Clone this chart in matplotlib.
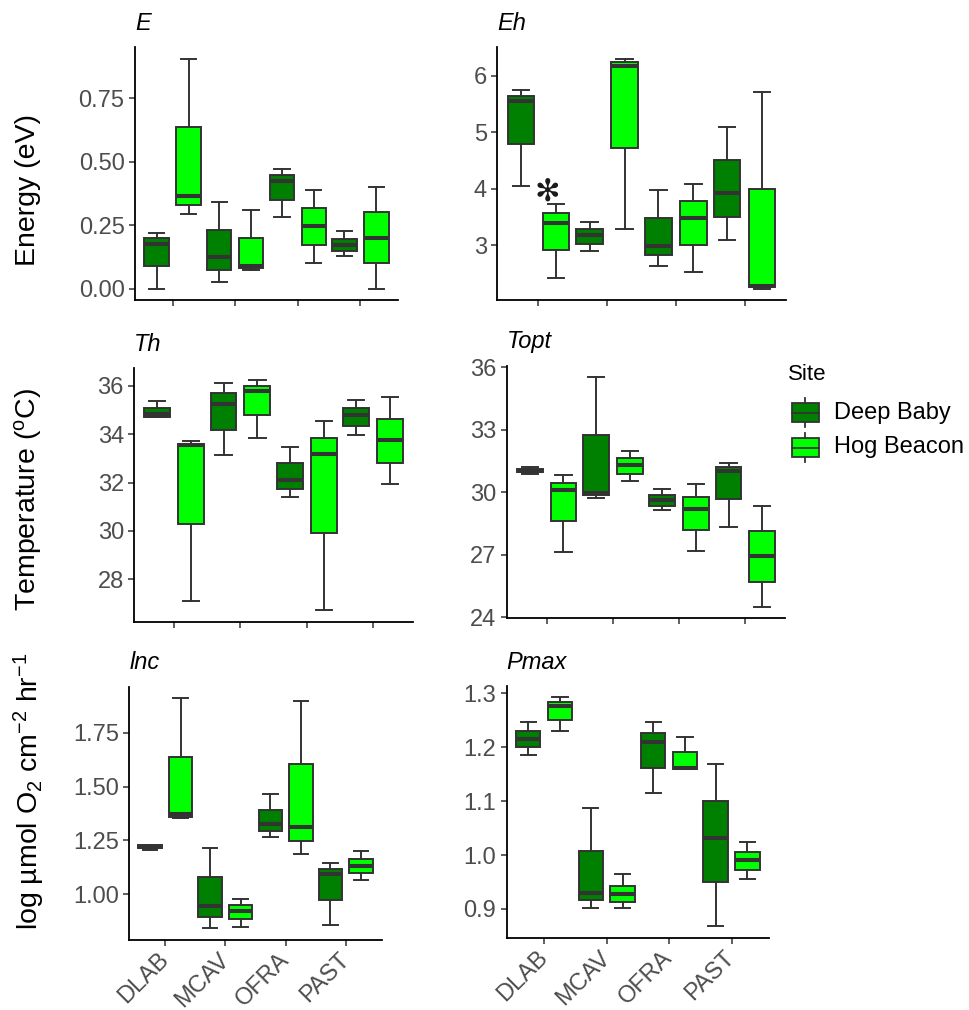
import matplotlib
matplotlib.use('Agg')
import matplotlib.pyplot as plt
from matplotlib.patches import Rectangle
from matplotlib.transforms import ScaledTranslation

plt.rcParams['font.family'] = ['Liberation Sans', 'DejaVu Sans']
plt.rcParams['mathtext.fontset'] = 'custom'
plt.rcParams['mathtext.rm'] = 'Liberation Sans'
plt.rcParams['mathtext.it'] = 'Liberation Sans:italic'

species = ['DLAB', 'MCAV', 'OFRA', 'PAST']
sites = ['Deep Baby', 'Hog Beacon']
site_colors = ['#008000', '#00FF00']

# five-number summaries per species: (whisker low, Q1, median, Q3, whisker high)
E_deep = [(0.000, 0.089, 0.177, 0.198, 0.220), (0.025, 0.073, 0.123, 0.231, 0.341),
          (0.281, 0.350, 0.425, 0.446, 0.471), (0.127, 0.148, 0.173, 0.195, 0.227)]
E_hog = [(0.294, 0.330, 0.364, 0.635, 0.907), (0.073, 0.080, 0.090, 0.198, 0.309),
         (0.100, 0.172, 0.245, 0.317, 0.389), (0.000, 0.100, 0.201, 0.302, 0.399)]
Eh_deep = [(4.05, 4.79, 5.55, 5.65, 5.75), (2.90, 3.02, 3.18, 3.29, 3.42),
           (2.64, 2.82, 2.99, 3.48, 3.98), (3.09, 3.50, 3.93, 4.51, 5.09)]
Eh_hog = [(2.42, 2.91, 3.40, 3.57, 3.74), (3.29, 4.73, 6.18, 6.24, 6.31),
          (2.53, 3.00, 3.49, 3.78, 4.09), (2.235, 2.259, 2.28, 4.00, 5.71)]
Th_deep = [(34.70, 34.71, 34.82, 35.07, 35.36), (33.15, 34.19, 35.23, 35.69, 36.11),
           (31.42, 31.75, 32.12, 32.79, 33.46), (33.95, 34.34, 34.78, 35.09, 35.42)]
Th_hog = [(27.09, 30.30, 33.54, 33.61, 33.70), (33.85, 34.80, 35.78, 36.00, 36.25),
          (26.72, 29.93, 33.17, 33.83, 34.54), (31.93, 32.82, 33.77, 34.64, 35.55)]
Topt_deep = [(30.90, 30.95, 31.04, 31.14, 31.22), (29.75, 29.88, 29.99, 32.76, 35.52),
             (29.15, 29.35, 29.63, 29.88, 30.14), (28.33, 29.66, 31.01, 31.22, 31.39)]
Topt_hog = [(27.14, 28.61, 30.10, 30.45, 30.82), (30.52, 30.90, 31.31, 31.65, 31.98),
            (27.17, 28.19, 29.21, 29.77, 30.39), (24.51, 25.71, 26.96, 28.14, 29.35)]
Inc_deep = [(1.204, 1.213, 1.221, 1.227, 1.230), (0.841, 0.893, 0.946, 1.079, 1.216),
            (1.264, 1.292, 1.326, 1.393, 1.467), (0.855, 0.974, 1.094, 1.116, 1.147)]
Inc_hog = [(1.354, 1.359, 1.371, 1.639, 1.911), (0.847, 0.887, 0.924, 0.949, 0.977),
           (1.187, 1.249, 1.312, 1.603, 1.897), (1.066, 1.101, 1.133, 1.165, 1.199)]
Pmax_deep = [(1.185, 1.2006, 1.2157, 1.2307, 1.2458), (0.902, 0.917, 0.930, 1.008, 1.087),
             (1.115, 1.162, 1.209, 1.227, 1.246), (0.868, 0.950, 1.031, 1.100, 1.168)]
Pmax_hog = [(1.229, 1.251, 1.276, 1.284, 1.292), (0.902, 0.913, 0.927, 0.943, 0.964),
            (1.159, 1.160, 1.162, 1.190, 1.219), (0.955, 0.972, 0.991, 1.006, 1.024)]

E_ticks = [0.0, 0.25, 0.5, 0.75]
Eh_ticks = [3, 4, 5, 6]
Th_ticks = [28, 30, 32, 34, 36]
Topt_ticks = [24, 27, 30, 33, 36]
Inc_ticks = [1.0, 1.25, 1.5, 1.75]
Pmax_ticks = [0.9, 1.0, 1.1, 1.2, 1.3]

W, H = 969, 1010
fig = plt.figure(figsize=(W / 100, H / 100), dpi=100)
EDGE = '#333333'


def add_ax(left, right, top, bottom):
    return fig.add_axes([left / W, 1 - bottom / H, (right - left) / W, (bottom - top) / H])


def panel(ax, deep, hog, ticks, fmt, title, show_x):
    stats, pos, cols = [], [], []
    for i in range(len(species)):
        for j, grp in enumerate([deep, hog]):
            lo, q1, med, q3, hi = grp[i]
            stats.append(dict(whislo=lo, q1=q1, med=med, q3=q3, whishi=hi, fliers=[]))
            pos.append(i + 1 + (-0.255 if j == 0 else 0.255))
            cols.append(site_colors[j])
    bp = ax.bxp(stats, positions=pos, widths=0.39, capwidths=0.245, patch_artist=True,
                showfliers=False,
                boxprops=dict(edgecolor=EDGE, linewidth=1.4),
                whiskerprops=dict(color=EDGE, linewidth=1.4),
                capprops=dict(color=EDGE, linewidth=1.4),
                medianprops=dict(color=EDGE, linewidth=2.9, solid_capstyle='butt'))
    for b, c in zip(bp['boxes'], cols):
        b.set_facecolor(c)
    allv = [v for g in (deep, hog) for t in g for v in t]
    lo, hi = min(allv), max(allv)
    pad = 0.05 * (hi - lo)
    ax.set_ylim(lo - pad, hi + pad)
    ax.set_xlim(0.4, 4.6)
    ax.set_yticks(ticks)
    ax.set_yticklabels([fmt.format(t) for t in ticks])
    ax.set_xticks(range(1, len(species) + 1))
    if show_x:
        labs = ax.set_xticklabels(species, rotation=45, ha='right', va='center',
                                  rotation_mode='anchor')
        off = ScaledTranslation(5 / 100, -2 / 100, fig.dpi_scale_trans)
        for lb in labs:
            lb.set_transform(lb.get_transform() + off)
    else:
        ax.set_xticklabels([])
    for s in ('top', 'right'):
        ax.spines[s].set_visible(False)
    for s in ('left', 'bottom'):
        ax.spines[s].set_color('black')
        ax.spines[s].set_linewidth(1.3)
    ax.tick_params(direction='out', length=4, width=1.1, color=EDGE,
                   labelcolor='#4D4D4D', labelsize=17, pad=3.5)
    ax.tick_params(axis='x', pad=8)
    ax.set_title(title, loc='left', fontstyle='italic', fontsize=17, pad=12.5)
    ax.set_facecolor('white')


axE = add_ax(135, 398, 47, 300)
panel(axE, E_deep, E_hog, E_ticks, '{:.2f}', 'E', False)
axEh = add_ax(497.3, 785.7, 47, 300)
panel(axEh, Eh_deep, Eh_hog, Eh_ticks, '{:.0f}', 'Eh', False)
axEh.text(1.13, 3.947, '\u273B', fontsize=22, ha='center', va='center', color='#1a1a1a',
          family=['DejaVu Sans'])
axTh = add_ax(134.3, 413, 368.3, 621.7)
panel(axTh, Th_deep, Th_hog, Th_ticks, '{:.0f}', 'Th', False)
axTopt = add_ax(506.8, 785.2, 365.7, 618.3)
panel(axTopt, Topt_deep, Topt_hog, Topt_ticks, '{:.0f}', 'Topt', False)
axInc = add_ax(129.3, 381.7, 686.7, 940)
panel(axInc, Inc_deep, Inc_hog, Inc_ticks, '{:.2f}', 'lnc', True)
axP = add_ax(506.7, 769, 686, 937.7)
panel(axP, Pmax_deep, Pmax_hog, Pmax_ticks, '{:.1f}', 'Pmax', True)

# overlay for labels and legend (pixel coordinates)
lax = fig.add_axes([0, 0, 1, 1], facecolor='none')
lax.set_xlim(0, W)
lax.set_ylim(H, 0)
lax.axis('off')
lax.text(28, 190.5, 'Energy (eV)', rotation=90, ha='center', va='center', fontsize=20.5)
lax.text(28, 500, 'Temperature ($^{\\mathrm{o}}$C)', rotation=90, ha='center', va='center', fontsize=20.5)
lax.text(29, 791, 'log µmol O$_2$ cm$^{-2}$ hr$^{-1}$', rotation=90, ha='center', va='center', fontsize=20.5)

lax.text(788.3, 375, 'Site', ha='left', va='center', fontsize=16)
for i, (name, col) in enumerate(zip(sites, site_colors)):
    y0 = 403.3 + 35 * i
    y1 = 421.7 + 35 * i
    xc = 805.5
    lax.plot([xc, xc], [y0 - 5, y0], color=EDGE, lw=1.3)
    lax.plot([xc, xc], [y1, y1 + 5], color=EDGE, lw=1.3)
    lax.add_patch(Rectangle((791.7, y0), 27.6, y1 - y0, facecolor=col, edgecolor=EDGE, lw=1.3))
    lax.plot([791.7, 819.3], [(y0 + y1) / 2] * 2, color=EDGE, lw=1.3)
    lax.text(834, (y0 + y1) / 2, name, ha='left', va='center', fontsize=17)

fig.savefig('out.png', dpi=100, facecolor='white')
